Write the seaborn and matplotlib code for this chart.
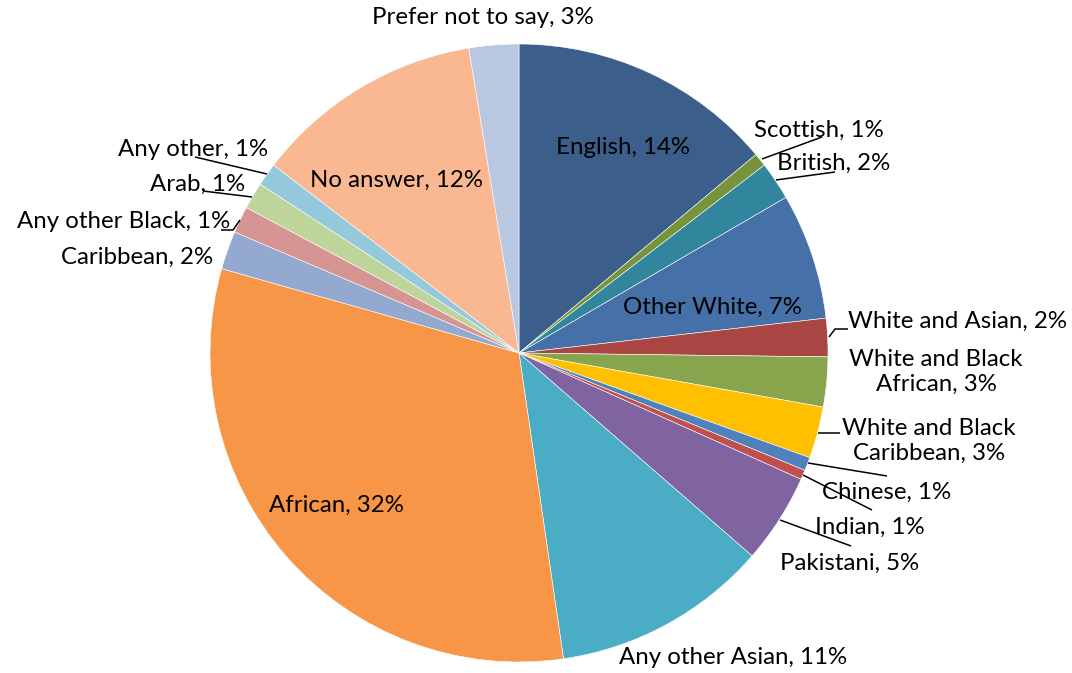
import matplotlib
matplotlib.use("Agg")
import matplotlib.pyplot as plt
import seaborn as sns
import numpy as np

sns.set_theme(style="white")
plt.rcParams['font.family'] = ['Lato', 'DejaVu Sans']

categories = ["English", "Scottish", "British", "Other White", "White and Asian",
              "White and Black African", "White and Black Caribbean", "Chinese", "Indian",
              "Pakistani", "Any other Asian", "African", "Caribbean", "Any other Black",
              "Arab", "Any other", "No answer", "Prefer not to say"]
values = [13.9, 0.7, 2.0, 6.6, 2.0, 2.6, 2.7, 0.7, 0.5, 4.7, 11.3, 31.7, 2.0, 1.4, 1.4, 1.2, 12.0, 2.6]
labels = ["English, 14%", "Scottish, 1%", "British, 2%", "Other White, 7%", "White and Asian, 2%",
          "White and Black\nAfrican, 3%", "White and Black\nCaribbean, 3%", "Chinese, 1%", "Indian, 1%",
          "Pakistani, 5%", "Any other Asian, 11%", "African, 32%", "Caribbean, 2%", "Any other Black, 1%",
          "Arab, 1%", "Any other, 1%", "No answer, 12%", "Prefer not to say, 3%"]
colors = ["#3B5E8B", "#77933C", "#31859C", "#4571A8", "#A94542", "#88A54E", "#FFC000",
          "#4F81BD", "#C0504D", "#8064A2", "#4BACC6", "#F79646", "#93A9D0", "#D69593",
          "#BDD49A", "#93C9DB", "#F9B792", "#B9C7E0"]

W, H = 1072, 673
fig = plt.figure(figsize=(W / 100, H / 100), dpi=100)
ax = fig.add_axes([0, 0, 1, 1])

cx, cy, R = 519, H - 353, 309
wedges, _ = ax.pie(values, colors=colors, startangle=90, counterclock=False,
                   center=(cx, cy), radius=R, frame=True,
                   wedgeprops=dict(edgecolor='white', linewidth=0.4))
ax.set_xlim(0, W)
ax.set_ylim(0, H)
ax.set_aspect('equal')
ax.axis('off')

fs = 17.3

def P(x, y):
    return x, H - y

# text placements: (x, y, ha)
place = {
    "English": (623, 147, 'center'),
    "Scottish": (754, 130, 'left'),
    "British": (777, 163, 'left'),
    "Other White": (712, 307, 'center'),
    "White and Asian": (848, 321, 'left'),
    "White and Black African": (936, 372, 'center'),
    "White and Black Caribbean": (929, 441, 'center'),
    "Chinese": (822, 492, 'left'),
    "Indian": (815, 527, 'left'),
    "Pakistani": (780, 563, 'left'),
    "Any other Asian": (733, 658, 'center'),
    "African": (336, 505, 'center'),
    "Caribbean": (213, 257, 'right'),
    "Any other Black": (230, 221, 'right'),
    "Arab": (245, 184, 'right'),
    "Any other": (268, 150, 'right'),
    "No answer": (397, 180, 'center'),
    "Prefer not to say": (483, 17, 'center'),
}
for cat, lab in zip(categories, labels):
    x, y, ha = place[cat]
    px, py = P(x, y)
    ax.text(px, py, lab, ha=ha, va='center', fontsize=fs, color='black',
            multialignment='center', linespacing=1.2)

# leader lines (image pixel coordinates)
leaders = {
    "Scottish": [(762, 159), (822, 137)],
    "British": [(776, 180), (835, 172)],
    "White and Asian": [(829, 337), (835, 329), (848, 329)],
    "White and Black Caribbean": [(818, 433), (840, 433)],
    "Chinese": [(808, 463), (887, 476)],
    "Indian": [(803, 475), (872, 510)],
    "Pakistani": [(780, 520), (851, 546)],
    "Any other Black": [(221, 230), (233, 230), (240, 220)],
    "Arab": [(203, 191), (252, 197)],
    "Any other": [(195, 157), (267, 174)],
}
for cat, pts in leaders.items():
    xs = [p[0] for p in pts]
    ys = [H - p[1] for p in pts]
    ax.plot(xs, ys, color='black', linewidth=1.1, solid_capstyle='butt')

fig.savefig("out.png", dpi=100)
